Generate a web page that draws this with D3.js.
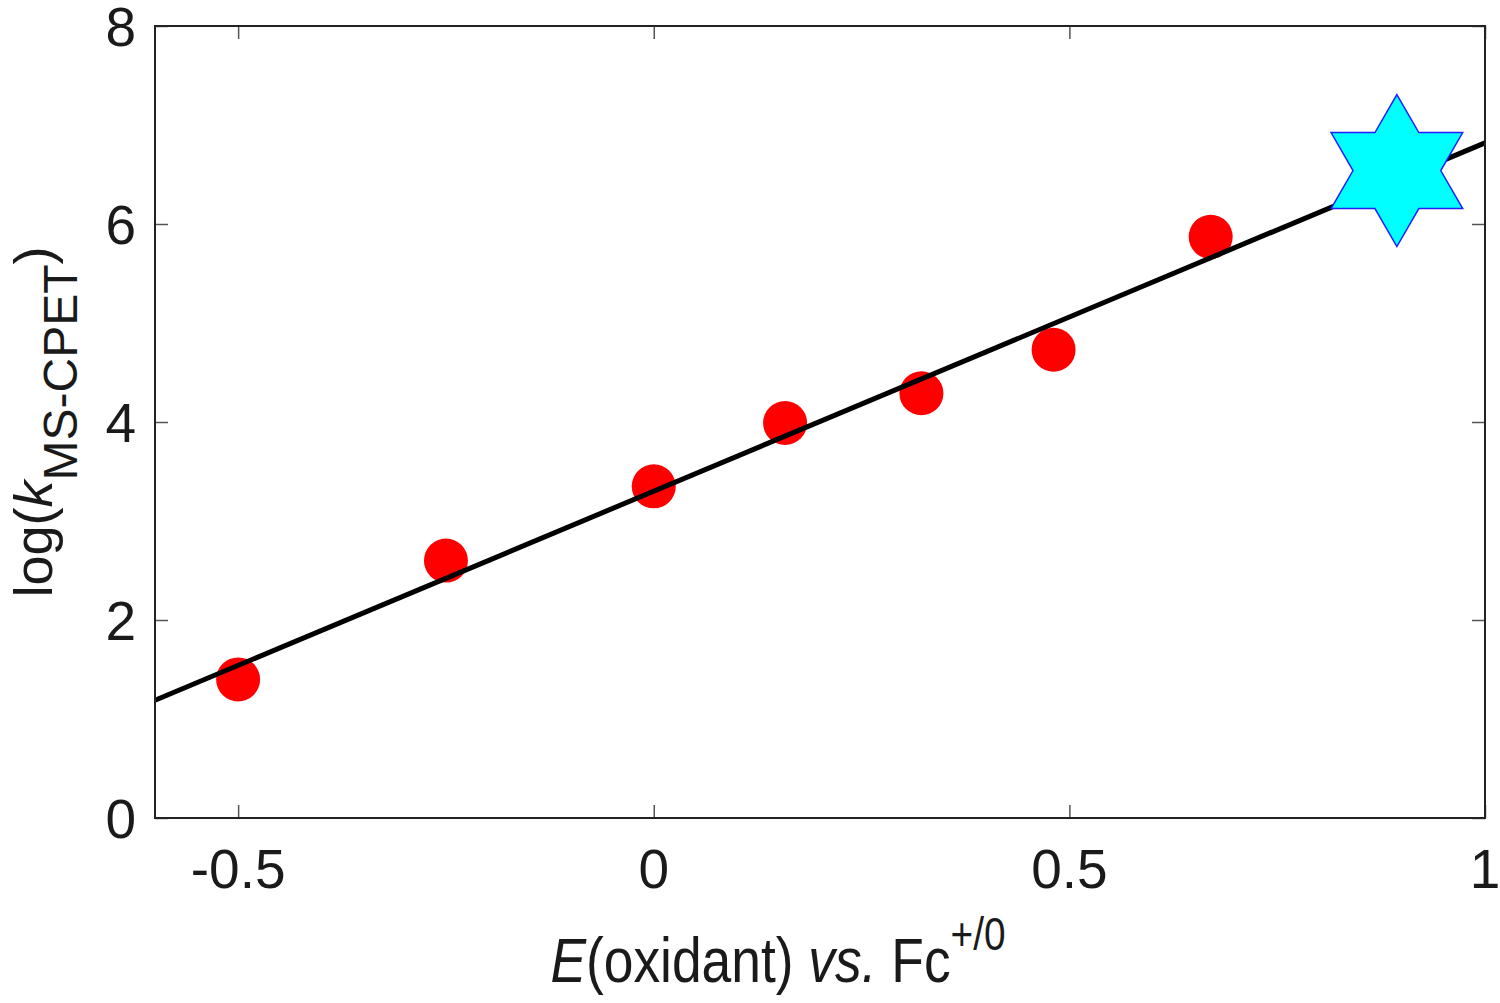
<!DOCTYPE html>
<html>
<head>
<meta charset="utf-8">
<script src="https://cdn.jsdelivr.net/npm/d3@7"></script>
<style>
  html, body { margin: 0; padding: 0; background: #fff; }
  svg { display: block; }
  text { font-family: "Liberation Sans", Arial, Helvetica, sans-serif; fill: #1a1a1a; }
</style>
</head>
<body>
<svg id="chart" width="1500" height="1003"></svg>
<script>
// ---- data ----
const potentialE = [-0.50, -0.25, 0.00, 0.158, 0.322, 0.481, 0.670];
const logK       = [1.40, 2.60, 3.35, 3.99, 4.29, 4.73, 5.87];
const starPoint  = [0.894, 6.54];
const fitLineX   = [-0.6, 1.0];
const fitLineY   = [1.19, 6.82];
const xTicks = [-0.5, 0, 0.5, 1];
const xTickLabels = ["-0.5", "0", "0.5", "1"];
const yTicks = [0, 2, 4, 6, 8];
const yTickLabels = ["0", "2", "4", "6", "8"];

// ---- layout ----
const svg = d3.select("#chart");
const L = 155, R = 1485, T = 26, B = 818;
const x = d3.scaleLinear().domain([-0.6, 1]).range([L, R]);
const y = d3.scaleLinear().domain([0, 8]).range([B, T]);

// ticks (inward, all four sides)
const tickLen = 13;
const axB = d3.axisBottom(x).tickValues(xTicks).tickSize(-tickLen).tickFormat("");
const axT = d3.axisTop(x).tickValues(xTicks).tickSize(-tickLen).tickFormat("");
const axL = d3.axisLeft(y).tickValues(yTicks).tickSize(-tickLen).tickFormat("");
const axR = d3.axisRight(y).tickValues(yTicks).tickSize(-tickLen).tickFormat("");
function styleAx(g) {
  g.select(".domain").remove();
  g.selectAll(".tick line").attr("stroke", "#555").attr("stroke-width", 1.5);
}
svg.append("g").attr("transform", `translate(0,${B})`).call(axB).call(styleAx);
svg.append("g").attr("transform", `translate(0,${T})`).call(axT).call(styleAx);
svg.append("g").attr("transform", `translate(${L},0)`).call(axL).call(styleAx);
svg.append("g").attr("transform", `translate(${R},0)`).call(axR).call(styleAx);

// tick labels
svg.append("g").selectAll("text").data(xTicks).join("text")
  .attr("x", d => x(d)).attr("y", 888)
  .attr("text-anchor", "middle").attr("font-size", 55)
  .text((d, i) => xTickLabels[i]);
svg.append("g").selectAll("text").data(yTicks).join("text")
  .attr("x", 136).attr("y", d => y(d) + 20)
  .attr("text-anchor", "end").attr("font-size", 55)
  .text((d, i) => yTickLabels[i]);

// data points
svg.append("g").selectAll("circle").data(potentialE).join("circle")
  .attr("cx", d => x(d)).attr("cy", (d, i) => y(logK[i]))
  .attr("r", 22).attr("fill", "#ff0000");

// fit line
svg.append("path")
  .datum(fitLineX.map((d, i) => [d, fitLineY[i]]))
  .attr("d", d3.line().x(d => x(d[0])).y(d => y(d[1])))
  .attr("stroke", "#000").attr("stroke-width", 5).attr("fill", "none");

// hexagram star
const ro = 76, ri = ro / Math.sqrt(3);
const starPts = [];
for (let k = 0; k < 12; k++) {
  const a = -Math.PI / 2 + k * Math.PI / 6;
  const r = k % 2 === 0 ? ro : ri;
  starPts.push([r * Math.cos(a), r * Math.sin(a)]);
}
svg.append("path")
  .attr("transform", `translate(${x(starPoint[0])},${y(starPoint[1])})`)
  .attr("d", "M" + starPts.map(p => p.join(",")).join("L") + "Z")
  .attr("fill", "#00ffff").attr("stroke", "#2020ff").attr("stroke-width", 1.5);

// frame
svg.append("rect").attr("x", L).attr("y", T).attr("width", R - L).attr("height", B - T)
  .attr("fill", "none").attr("stroke", "#222").attr("stroke-width", 2);

// x label
const xl = svg.append("text").attr("transform", "translate(778,982) scale(0.97,1.15)")
  .attr("text-anchor", "middle").attr("font-size", 55);
xl.append("tspan").attr("font-style", "italic").text("E");
xl.append("tspan").text("(oxidant) ");
xl.append("tspan").attr("font-style", "italic").text("vs.");
xl.append("tspan").text(" Fc");
xl.append("tspan").attr("font-size", 40).attr("dy", -28).text("+/0");

// y label
const yl = svg.append("text")
  .attr("transform", `translate(52,${(T + B) / 2}) rotate(-90)`)
  .attr("text-anchor", "middle").attr("font-size", 54);
yl.append("tspan").text("log(");
yl.append("tspan").attr("font-style", "italic").text("k");
yl.append("tspan").attr("font-size", 48).attr("dy", 25).text("MS-CPET");
yl.append("tspan").attr("dy", -25).text(")");
</script>
</body>
</html>
